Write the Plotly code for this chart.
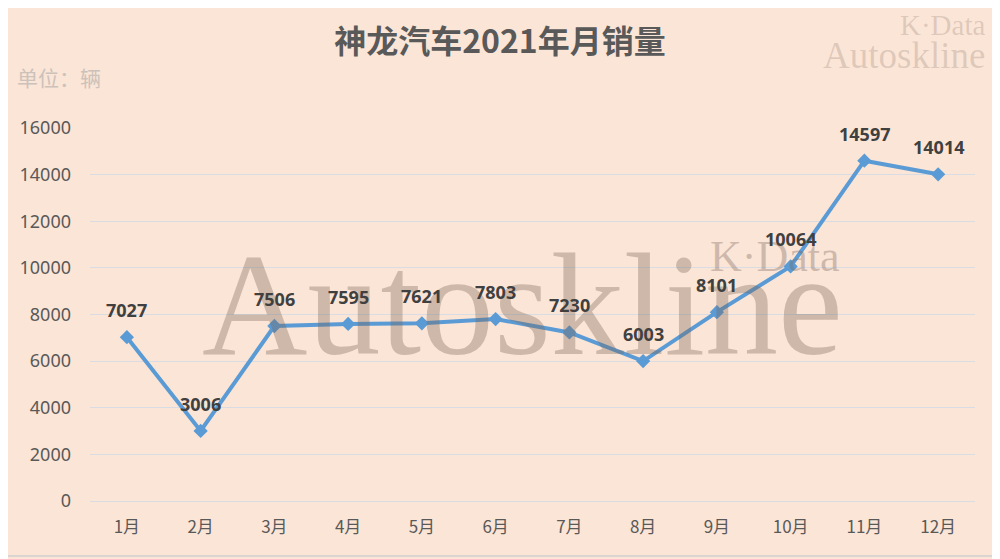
import plotly.graph_objects as go

months = ["1月", "2月", "3月", "4月", "5月", "6月", "7月", "8月", "9月", "10月", "11月", "12月"]
sales = [7027, 3006, 7506, 7595, 7621, 7803, 7230, 6003, 8101, 10064, 14597, 14014]
y_ticks = [0, 2000, 4000, 6000, 8000, 10000, 12000, 14000, 16000]
y_tick_text = ["0", "2000", "4000", "6000", "8000", "10000", "12000", "14000", "16000"]

OFF = 8  # page body margin
W, H = 1000 - OFF, 559 - OFF
L, R, T, B = 87 - OFF, 25, 128 - OFF, 58
PW, PH = W - L - R, H - T - B

def px(x):
    return (x - OFF - L) / PW

def py(y):
    return (H - B - (y - OFF)) / PH

BG = "#FBE5D6"
LINE = "#5B9BD5"
FONT = "Noto Sans, Noto Sans CJK SC, sans-serif"
CJK = "Noto Sans CJK SC, sans-serif"
SERIF = "Liberation Serif, Times New Roman, serif"

fig = go.Figure()
fig.add_trace(go.Scatter(
    x=months, y=sales, mode="lines+markers",
    line=dict(color=LINE, width=4),
    marker=dict(symbol="diamond", size=11, color=LINE),
    hoverinfo="x+y", showlegend=False,
))

ann = []
# watermarks
ann.append(dict(text="Autoskline", xref="paper", yref="paper", x=px(197), y=py(305),
                xanchor="left", yanchor="middle", showarrow=False,
                font=dict(family=SERIF, size=146, color="rgba(120,100,90,0.35)")))
ann.append(dict(text="K·Data", xref="paper", yref="paper", x=px(842), y=py(256),
                xanchor="right", yanchor="middle", showarrow=False,
                font=dict(family=SERIF, size=44, color="rgba(120,100,90,0.35)")))
ann.append(dict(text="K·Data", xref="paper", yref="paper", x=px(987), y=py(25),
                xanchor="right", yanchor="middle", showarrow=False,
                font=dict(family=SERIF, size=29, color="rgba(120,100,90,0.22)")))
ann.append(dict(text="Autoskline", xref="paper", yref="paper", x=px(987), y=py(55),
                xanchor="right", yanchor="middle", showarrow=False,
                font=dict(family=SERIF, size=37, color="rgba(120,100,90,0.22)")))
# unit label
ann.append(dict(text="单位：辆", xref="paper", yref="paper", x=px(12), y=py(77),
                xanchor="left", yanchor="middle", showarrow=False,
                font=dict(family=CJK, size=21, color="#CCC2BB")))
# data labels
for m, v in zip(months, sales):
    ann.append(dict(text=str(v), x=m, y=v, xref="x", yref="y", showarrow=False,
                    yshift=27, font=dict(family=FONT, size=18, color="#404040", weight="bold")))

fig.update_layout(
    width=W, height=H,
    margin=dict(l=L, r=R, t=T, b=B),
    paper_bgcolor=BG, plot_bgcolor=BG,
    title=dict(text="<b>神龙汽车2021年月销量</b>", x=(500 - OFF) / W, xref="container",
               xanchor="center", y=1 - (42 - OFF) / H, yref="container", yanchor="middle",
               font=dict(family=CJK, size=32, color="#595959")),
    xaxis=dict(showgrid=False, showline=False, zeroline=False, ticks="",
               range=[-0.5, len(months) - 0.5],
               tickfont=dict(family=CJK, size=17, color="#595959"),
               ticklabelstandoff=14, fixedrange=True),
    yaxis=dict(range=[0, 16000], tickvals=y_ticks, ticktext=y_tick_text,
               showgrid=True, gridcolor="#D9DCE2",
               gridwidth=1.2, zeroline=True, zerolinecolor="#D9DCE2", zerolinewidth=1.2,
               showline=False, ticks="",
               tickfont=dict(family=FONT, size=18, color="#595959"),
               ticklabelstandoff=18, fixedrange=True),
    annotations=ann,
    shapes=[dict(type="rect", xref="paper", yref="paper", x0=px(2), x1=px(997),
                 y0=py(556), y1=py(2), line=dict(color="#D0D0D0", width=1.5))],
)

fig.write_html("out.html")
